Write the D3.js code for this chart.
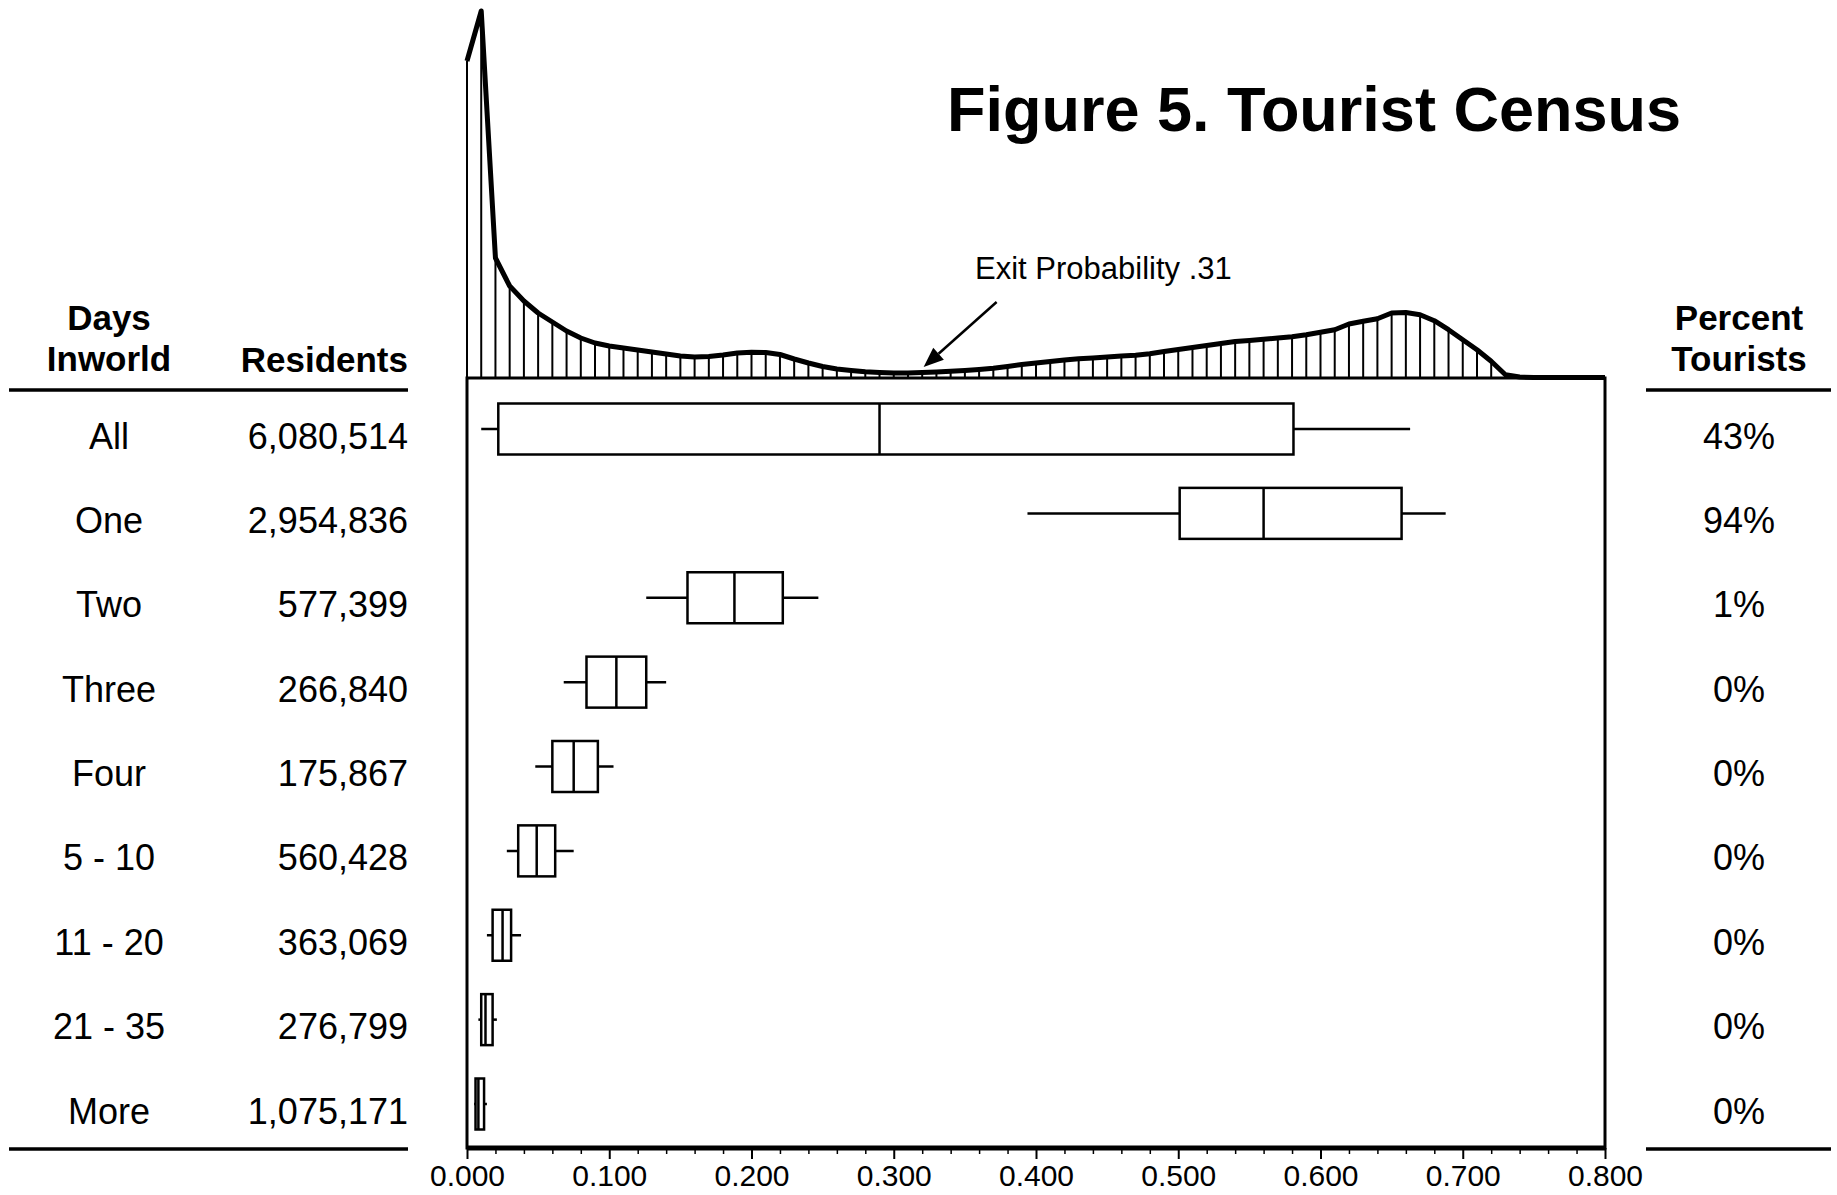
<!DOCTYPE html>
<html>
<head>
<meta charset="utf-8">
<script src="https://cdn.jsdelivr.net/npm/d3@7/dist/d3.min.js"></script>
<style>
  body { margin: 0; background: #fff; }
  svg { display: block; font-family: "Liberation Sans", Arial, sans-serif; }
</style>
</head>
<body>
<div id="chart"></div>
<script>
// rows of the table
const daysInworld = ["All", "One", "Two", "Three", "Four", "5 - 10", "11 - 20", "21 - 35", "More"];
const residents = [6080514, 2954836, 577399, 266840, 175867, 560428, 363069, 276799, 1075171];
const percentTourists = [43, 94, 1, 0, 0, 0, 0, 0, 0];

// box plot stats of exit probability per row
const whiskerLow = [0.010, 0.394, 0.126, 0.068, 0.048, 0.028, 0.014, 0.008, 0.005];
const quart1 = [0.022, 0.501, 0.155, 0.084, 0.060, 0.036, 0.018, 0.010, 0.006];
const medians = [0.290, 0.560, 0.188, 0.105, 0.075, 0.049, 0.025, 0.013, 0.008];
const quart3 = [0.581, 0.657, 0.222, 0.126, 0.092, 0.062, 0.031, 0.018, 0.012];
const whiskerHigh = [0.663, 0.688, 0.247, 0.140, 0.103, 0.075, 0.038, 0.021, 0.014];

// density of exit probability (all residents), one value per 0.01 bin
const exitBins = [
  0.00, 0.01, 0.02, 0.03, 0.04, 0.05, 0.06, 0.07, 0.08, 0.09,
  0.10, 0.11, 0.12, 0.13, 0.14, 0.15, 0.16, 0.17, 0.18, 0.19,
  0.20, 0.21, 0.22, 0.23, 0.24, 0.25, 0.26, 0.27, 0.28, 0.29,
  0.30, 0.31, 0.32, 0.33, 0.34, 0.35, 0.36, 0.37, 0.38, 0.39,
  0.40, 0.41, 0.42, 0.43, 0.44, 0.45, 0.46, 0.47, 0.48, 0.49,
  0.50, 0.51, 0.52, 0.53, 0.54, 0.55, 0.56, 0.57, 0.58, 0.59,
  0.60, 0.61, 0.62, 0.63, 0.64, 0.65, 0.66, 0.67, 0.68, 0.69,
  0.70, 0.71, 0.72, 0.73, 0.74, 0.75, 0.76, 0.77, 0.78, 0.79, 0.80
];
const density = [
  31.7, 36.7, 12.0, 9.2, 7.7, 6.5, 5.6, 4.7, 4.0, 3.5,
  3.2, 3.0, 2.8, 2.6, 2.4, 2.2, 2.1, 2.15, 2.3, 2.5,
  2.57, 2.55, 2.35, 1.9, 1.5, 1.15, 0.9, 0.75, 0.62, 0.55,
  0.5, 0.5, 0.55, 0.6, 0.67, 0.75, 0.85, 0.97, 1.15, 1.35,
  1.5, 1.65, 1.8, 1.92, 2.0, 2.1, 2.2, 2.27, 2.43, 2.65,
  2.85, 3.05, 3.25, 3.45, 3.65, 3.75, 3.87, 4.0, 4.13, 4.33,
  4.57, 4.83, 5.4, 5.67, 5.93, 6.5, 6.55, 6.33, 5.73, 4.83,
  3.83, 2.83, 1.67, 0.33, 0.1, 0.05, 0.05, 0.05, 0.05, 0.05, 0.05
];

const xTicks = [0, 0.1, 0.2, 0.3, 0.4, 0.5, 0.6, 0.7, 0.8];
const xMinorTicks = [0.02, 0.04, 0.06, 0.08, 0.12, 0.14, 0.16, 0.18, 0.22, 0.24, 0.26, 0.28,
  0.32, 0.34, 0.36, 0.38, 0.42, 0.44, 0.46, 0.48, 0.52, 0.54, 0.56, 0.58,
  0.62, 0.64, 0.66, 0.68, 0.72, 0.74, 0.76, 0.78];

const titleText = "Figure 5. Tourist Census";
const exitLabel = "Exit Probability .31";

const width = 1837, height = 1195;
const plotLeft = 467, plotRight = 1605, plotTop = 378, plotBottom = 1148;
const boxH = 51;
const labelFont = 36;
const textShift = 19.5; // row text baseline below box centre

const svg = d3.select("#chart").append("svg")
  .attr("width", width)
  .attr("height", height);

const x = d3.scaleLinear().domain([0, 0.8]).range([plotLeft, plotRight]);
const yRow = d3.scalePoint().domain(daysInworld).range([429, 1104]);
const yDens = d3.scaleLinear().domain([0, 36.7]).range([plotTop, plotTop - 367]);

// hatch lines under the density curve
svg.append("g")
  .selectAll("line")
  .data(exitBins)
  .join("line")
  .attr("x1", d => x(d))
  .attr("x2", d => x(d))
  .attr("y1", plotTop)
  .attr("y2", (d, i) => yDens(density[i]))
  .attr("stroke", "#000")
  .attr("stroke-width", 2);

const densLine = d3.line()
  .x((d, i) => x(exitBins[i]))
  .y(d => yDens(d));

svg.append("path")
  .datum(density)
  .attr("d", densLine)
  .attr("fill", "none")
  .attr("stroke", "#000")
  .attr("stroke-width", 5)
  .attr("stroke-linejoin", "round");

// frame
svg.append("rect")
  .attr("x", plotLeft)
  .attr("y", plotTop)
  .attr("width", plotRight - plotLeft)
  .attr("height", plotBottom - plotTop)
  .attr("fill", "none")
  .attr("stroke", "#000")
  .attr("stroke-width", 3);
svg.append("line")
  .attr("x1", plotLeft).attr("x2", plotRight)
  .attr("y1", plotBottom).attr("y2", plotBottom)
  .attr("stroke", "#000").attr("stroke-width", 5);

// box plots
const rows = daysInworld.map((d, i) => ({
  name: d, lo: whiskerLow[i], q1: quart1[i], med: medians[i], q3: quart3[i], hi: whiskerHigh[i]
}));

const boxes = svg.append("g")
  .selectAll("g")
  .data(rows)
  .join("g")
  .attr("transform", d => `translate(0,${yRow(d.name)})`);

boxes.append("line")
  .attr("x1", d => x(d.lo)).attr("x2", d => x(d.hi))
  .attr("stroke", "#000").attr("stroke-width", 2.5);
boxes.append("rect")
  .attr("x", d => x(d.q1))
  .attr("y", -boxH / 2)
  .attr("width", d => x(d.q3) - x(d.q1))
  .attr("height", boxH)
  .attr("fill", "#fff")
  .attr("stroke", "#000")
  .attr("stroke-width", 2.5);
boxes.append("line")
  .attr("x1", d => x(d.med)).attr("x2", d => x(d.med))
  .attr("y1", -boxH / 2).attr("y2", boxH / 2)
  .attr("stroke", "#000").attr("stroke-width", 2.5);

// x axis
const axisG = svg.append("g")
  .attr("transform", `translate(0,${plotBottom})`)
  .call(d3.axisBottom(x).tickValues(xTicks).tickFormat(d3.format(".3f")).tickSize(11).tickPadding(6));
axisG.select(".domain").remove();
axisG.attr("font-family", null).attr("font-size", 30);
axisG.selectAll("line").attr("stroke-width", 2);
axisG.selectAll("text").attr("fill", "#000");

const minorG = svg.append("g")
  .attr("transform", `translate(0,${plotBottom})`)
  .call(d3.axisBottom(x).tickValues(xMinorTicks).tickFormat("").tickSize(6));
minorG.select(".domain").remove();
minorG.selectAll("line").attr("stroke-width", 1.5);

// table columns
const colDays = 109, colRes = 408, colPct = 1739;

svg.append("g")
  .selectAll("text")
  .data(daysInworld)
  .join("text")
  .attr("x", colDays)
  .attr("y", d => yRow(d) + textShift)
  .attr("text-anchor", "middle")
  .attr("font-size", labelFont)
  .text(d => d);

svg.append("g")
  .selectAll("text")
  .data(residents)
  .join("text")
  .attr("x", colRes)
  .attr("y", (d, i) => yRow(daysInworld[i]) + textShift)
  .attr("text-anchor", "end")
  .attr("font-size", labelFont)
  .text(d => d3.format(",")(d));

svg.append("g")
  .selectAll("text")
  .data(percentTourists)
  .join("text")
  .attr("x", colPct)
  .attr("y", (d, i) => yRow(daysInworld[i]) + textShift)
  .attr("text-anchor", "middle")
  .attr("font-size", labelFont)
  .text(d => d + "%");

// headers
const header = (txt, xx, yy, anchor) => svg.append("text")
  .attr("x", xx).attr("y", yy)
  .attr("text-anchor", anchor)
  .attr("font-size", 35)
  .attr("font-weight", "bold")
  .text(txt);
header("Days", colDays, 330, "middle");
header("Inworld", colDays, 371, "middle");
header("Residents", colRes, 372, "end");
header("Percent", colPct, 330, "middle");
header("Tourists", colPct, 371, "middle");

// rules above and below the table
[390, 1149].forEach(yy => {
  svg.append("line").attr("x1", 9).attr("x2", 408).attr("y1", yy).attr("y2", yy)
    .attr("stroke", "#000").attr("stroke-width", 3.5);
  svg.append("line").attr("x1", 1646).attr("x2", 1831).attr("y1", yy).attr("y2", yy)
    .attr("stroke", "#000").attr("stroke-width", 3.5);
});

// title
svg.append("text")
  .attr("x", 1314)
  .attr("y", 131)
  .attr("text-anchor", "middle")
  .attr("font-size", 63)
  .attr("font-weight", "bold")
  .text(titleText);

// exit probability annotation
svg.append("text")
  .attr("x", 975)
  .attr("y", 279)
  .attr("font-size", 31)
  .text(exitLabel);

const tip = [x(0.321), plotTop - 11];
const tail = [tip[0] + 73, tip[1] - 65];
const dx = tip[0] - tail[0], dy = tip[1] - tail[1];
const len = Math.hypot(dx, dy);
const ux = dx / len, uy = dy / len;
const headLen = 20, headW = 8;
const base = [tip[0] - ux * headLen, tip[1] - uy * headLen];
svg.append("line")
  .attr("x1", tail[0]).attr("y1", tail[1])
  .attr("x2", base[0]).attr("y2", base[1])
  .attr("stroke", "#000").attr("stroke-width", 2.5);
svg.append("path")
  .attr("d", d3.line()([
    tip,
    [base[0] - uy * headW, base[1] + ux * headW],
    [base[0] + uy * headW, base[1] - ux * headW]
  ]) + "Z")
  .attr("fill", "#000");
</script>
</body>
</html>
